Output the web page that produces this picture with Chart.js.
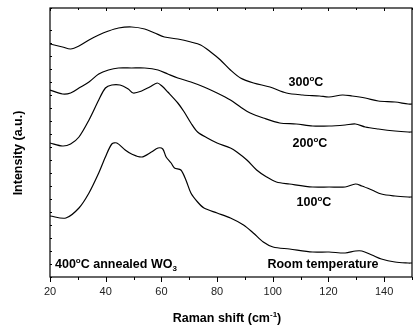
<!DOCTYPE html>
<html>
<head>
<meta charset="utf-8">
<script src="https://cdn.jsdelivr.net/npm/chart.js@4"></script>
<style>
  html, body { margin: 0; padding: 0; background: #fff; overflow: hidden; }
  canvas { display: block; }
</style>
</head>
<body>
<canvas id="ramanChart" width="420" height="329"></canvas>
<script>
// Raman spectra, intensity in arbitrary units (curves are stacked offsets)
const rtX = [20, 25.7, 30.4, 34, 37.5, 39.9, 42.2, 44, 47, 49.3, 52.9, 56.4, 58.8, 60.5, 61.7, 63.5, 64.7, 67, 68.8, 70.6, 73, 75.3, 80, 84.8, 89.5, 93, 96.6, 100.1, 106, 114.3, 120.2, 126, 129.7, 132, 135.6, 139, 143.9, 148.6, 150];
const rtY = [61, 59, 69, 84, 104, 120, 133, 134, 127, 123, 120, 125, 129, 128, 120, 114, 109, 107, 97, 84, 75, 69, 64, 59, 52, 44, 35, 30, 28, 25, 25, 24, 26, 26, 22, 18, 15, 14, 14];

const t100X = [20, 24.5, 27.4, 30.4, 34, 37.5, 39.9, 42.2, 45.1, 48.1, 49.9, 52.9, 55.8, 58.5, 60.2, 62.3, 65.9, 68.2, 70.6, 73, 76.5, 80, 84.8, 87.1, 90.7, 94.2, 97.8, 101.3, 106, 114.3, 120.2, 126, 129.7, 132, 135.6, 139, 143.9, 148.6, 150];
const t100Y = [134, 131, 133, 140, 157, 177, 189, 192, 192, 188, 184, 186, 190, 194, 191, 185, 174, 165, 154, 145, 139, 134, 129, 125, 117, 107, 100, 95, 93, 90, 90, 90, 93, 91, 87, 83, 81, 80, 80];

const t200X = [20, 24.5, 27.4, 30.4, 34, 37.5, 41, 44.6, 49.3, 54, 58.8, 62.3, 65.9, 70.6, 75.3, 80, 84.8, 88.4, 91.9, 96.6, 102.5, 108.4, 114.3, 120.2, 126, 129.7, 133.2, 137.9, 143.9, 148.6, 150];
const t200Y = [187, 183, 184, 189, 195, 203, 207, 209, 209, 209, 207, 203, 199, 195, 190, 184, 177, 170, 164, 159, 154, 153, 151, 151, 152, 153, 150, 148, 146, 145, 145];

const t300X = [20, 24.5, 27.4, 30.4, 34, 37.5, 41, 44.6, 49.3, 54, 57.6, 61.1, 65.9, 70.6, 74.1, 77.7, 81.2, 84.8, 88.4, 93.1, 99, 104.9, 110.8, 116.8, 120.2, 125, 128.5, 133.2, 137.9, 143.9, 148.6, 150];
const t300Y = [233, 230, 228, 231, 237, 242, 246, 249, 250, 248, 244, 240, 238, 235, 232, 225, 217, 207, 199, 194, 190, 184, 182, 181, 180, 182, 181, 179, 176, 175, 173, 173];

const seriesLabels = ["Room temperature", "100ºC", "200ºC", "300ºC"];

const toPoints = (xs, ys) => xs.map((x, i) => ({ x: x, y: ys[i] }));

const FONT = "'Liberation Sans', Arial, sans-serif";

// draw text made of pieces (normal / superscript / subscript)
function drawRich(ctx, parts, x, y, align) {
  let total = 0;
  parts.forEach(p => {
    ctx.font = "bold " + p.size + "px " + FONT;
    p.w = ctx.measureText(p.t).width;
    total += p.w;
  });
  let cx = align === "center" ? x - total / 2 : x;
  ctx.textBaseline = "alphabetic";
  ctx.textAlign = "left";
  parts.forEach(p => {
    ctx.font = "bold " + p.size + "px " + FONT;
    ctx.fillText(p.t, cx, y + (p.dy || 0));
    cx += p.w;
  });
}

const deg = (n) => [{ t: n, size: 12.5 }, { t: "o", size: 8, dy: -5 }, { t: "C", size: 12.5 }];

const framePlugin = {
  id: "frame",
  afterDraw(chart) {
    const ctx = chart.ctx;
    const a = chart.chartArea;
    const xs = chart.scales.x;
    const ys = chart.scales.y;
    ctx.save();
    ctx.strokeStyle = "#000";
    ctx.lineWidth = 1.2;
    ctx.strokeRect(a.left, a.top, a.right - a.left, a.bottom - a.top);

    // x ticks: outward at bottom, inward at top
    ctx.lineWidth = 1;
    xs.ticks.forEach(t => {
      const px = Math.round(xs.getPixelForValue(t.value)) + 0.5;
      const major = t.value % 20 === 0;
      ctx.beginPath();
      ctx.moveTo(px, a.bottom);
      ctx.lineTo(px, a.bottom + (major ? 5 : 3));
      ctx.moveTo(px, a.top);
      ctx.lineTo(px, a.top + (major ? 3 : 2));
      ctx.stroke();
    });
    // y ticks: inward on left
    ys.ticks.forEach(t => {
      const py = Math.round(ys.getPixelForValue(t.value)) + 0.5;
      ctx.beginPath();
      ctx.moveTo(a.left, py);
      ctx.lineTo(a.left + 2, py);
      ctx.stroke();
    });

    // labels
    ctx.fillStyle = "#000";
    drawRich(ctx, deg("300"), 306, 86, "center");
    drawRich(ctx, deg("200"), 310, 147, "center");
    drawRich(ctx, deg("100"), 314, 206, "center");
    drawRich(ctx, [{ t: seriesLabels[0], size: 12.5 }], 323, 268, "center");
    drawRich(ctx, [{ t: "400", size: 12.5 }, { t: "o", size: 8, dy: -5 }, { t: "C annealed WO", size: 12.5 }, { t: "3", size: 8, dy: 3 }], 55, 268, "left");

    // axis titles
    drawRich(ctx, [{ t: "Raman shift (cm", size: 12.5 }, { t: "-1", size: 8, dy: -5 }, { t: ")", size: 12.5 }], 227, 322, "center");
    ctx.translate(22, 153);
    ctx.rotate(-Math.PI / 2);
    drawRich(ctx, [{ t: "Intensity (a.u.)", size: 12.5 }], 0, 0, "center");
    ctx.restore();
  }
};

const lineStyle = { borderColor: "#000", borderWidth: 1.2, pointRadius: 0, fill: false, tension: 0.3 };

new Chart(document.getElementById("ramanChart"), {
  type: "line",
  data: {
    datasets: [
      Object.assign({ label: seriesLabels[0], data: toPoints(rtX, rtY) }, lineStyle),
      Object.assign({ label: seriesLabels[1], data: toPoints(t100X, t100Y) }, lineStyle),
      Object.assign({ label: seriesLabels[2], data: toPoints(t200X, t200Y) }, lineStyle),
      Object.assign({ label: seriesLabels[3], data: toPoints(t300X, t300Y) }, lineStyle)
    ]
  },
  options: {
    responsive: false,
    animation: false,
    devicePixelRatio: 1,
    layout: { padding: { left: 0, top: 8, right: 3, bottom: 0 } },
    plugins: { legend: { display: false }, tooltip: { enabled: false } },
    scales: {
      x: {
        type: "linear",
        min: 20,
        max: 150,
        border: { display: false },
        grid: { display: false, drawTicks: false },
        ticks: {
          stepSize: 10,
          autoSkip: false,
          maxRotation: 0,
          padding: 8,
          color: "#222",
          font: { family: FONT, size: 11 },
          callback: v => (v % 20 === 0 && v < 150 ? v : "")
        },
        afterFit: s => { s.height = 52; }
      },
      y: {
        min: 0,
        max: 269,
        border: { display: false },
        grid: { display: false, drawTicks: false },
        ticks: { stepSize: 13, display: false },
        afterFit: s => { s.width = 50; }
      }
    }
  },
  plugins: [framePlugin]
});
</script>
</body>
</html>
